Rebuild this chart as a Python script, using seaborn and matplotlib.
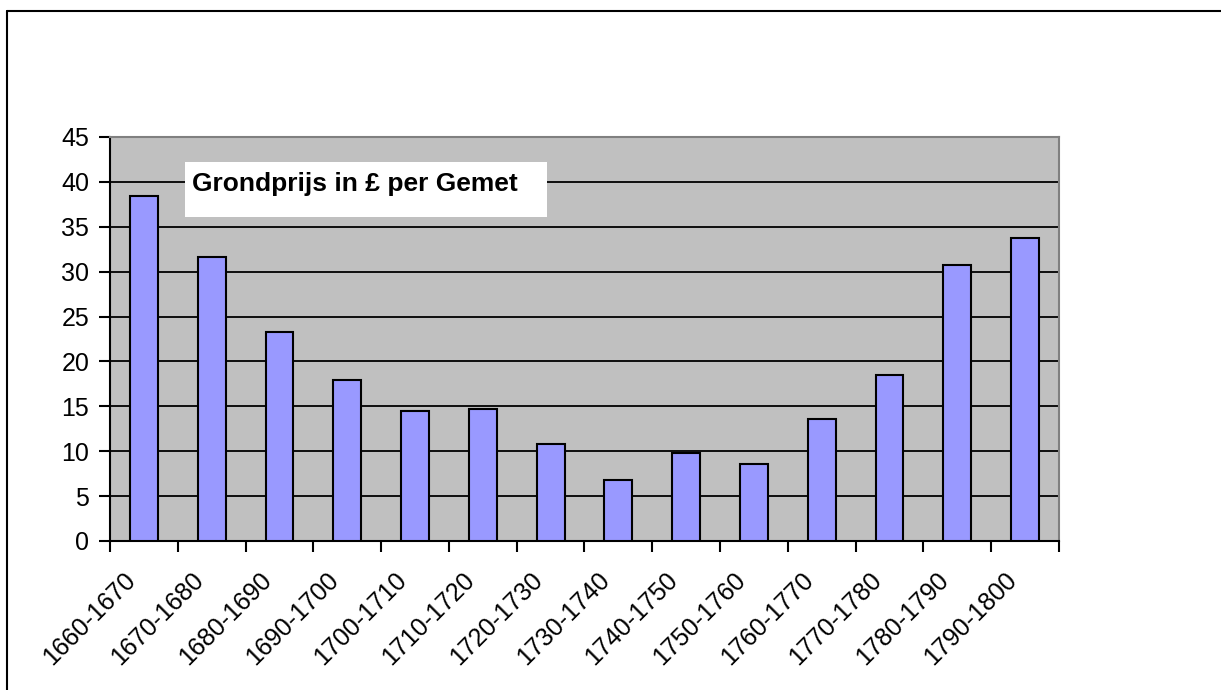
import matplotlib
matplotlib.use("Agg")
import matplotlib.pyplot as plt
import matplotlib.transforms as mtransforms
from matplotlib.patches import Rectangle
from matplotlib.lines import Line2D
import seaborn as sns
import pandas as pd
import numpy as np

periods = ["1660-1670", "1670-1680", "1680-1690", "1690-1700", "1700-1710",
           "1710-1720", "1720-1730", "1730-1740", "1740-1750", "1750-1760",
           "1760-1770", "1770-1780", "1780-1790", "1790-1800"]
prices = [38.45, 31.6, 23.3, 17.95, 14.45, 14.65, 10.85, 6.85, 9.75, 8.6,
          13.55, 18.45, 30.7, 33.8]
y_ticks = [0, 5, 10, 15, 20, 25, 30, 35, 40, 45]
label_text = "Grondprijs in £ per Gemet"

sns.set_theme(style="white")
plt.rcParams["font.family"] = ["Liberation Sans", "DejaVu Sans"]
plt.rcParams["text.color"] = "black"
plt.rcParams["xtick.color"] = "black"
plt.rcParams["ytick.color"] = "black"
plt.rcParams["xtick.labelcolor"] = "black"
plt.rcParams["ytick.labelcolor"] = "black"

W, H = 1221, 690
fig = plt.figure(figsize=(W / 100, H / 100), dpi=100)
ax = fig.add_axes([110 / W, 1 - 541 / H, 949 / W, 404 / H])

df = pd.DataFrame({"period": periods, "price": prices})
sns.barplot(data=df, x="period", y="price", ax=ax, color="#9999FF",
            width=0.41, edgecolor="black", linewidth=1.5, saturation=1,
            zorder=3)

ax.set_facecolor("#C0C0C0")
ax.set_xlim(-0.5, len(periods) - 0.5)
ax.set_ylim(0, 45)
ax.set_yticks(y_ticks)
ax.set_yticklabels([str(v) for v in y_ticks], fontsize=18, color="black")
ax.set_xlabel("")
ax.set_ylabel("")
for y in y_ticks[1:-1]:
    ax.axhline(y, color="black", linewidth=1.3, zorder=1)

ax.set_xticks(range(len(periods)))
ax.set_xticklabels(periods, fontsize=18, rotation=45, ha="right",
                   rotation_mode="anchor", va="center", color="black")
ax.tick_params(axis="x", which="major", length=0, pad=0)
offset = mtransforms.ScaledTranslation(-12 / 100, -35 / 100, fig.dpi_scale_trans)
for lbl in ax.get_xticklabels():
    lbl.set_transform(lbl.get_transform() + offset)
ax.set_xticks(np.arange(-0.5, len(periods)), minor=True)
ax.tick_params(axis="x", which="minor", length=8, width=1.5, color="black",
               direction="out", bottom=True)
ax.tick_params(axis="y", length=8, width=1.5, color="black", direction="out",
               left=True, pad=7)

for side in ["left", "bottom"]:
    ax.spines[side].set_color("black")
    ax.spines[side].set_linewidth(1.5)
for side in ["top", "right"]:
    ax.spines[side].set_color("#808080")
    ax.spines[side].set_linewidth(1.5)

ax.add_patch(Rectangle((75 / 949, (541 - 216.7) / 404), 361.7 / 949, 55 / 404,
                       transform=ax.transAxes, facecolor="white",
                       edgecolor="none", zorder=4))
ax.text(82 / 949, (541 - 191) / 404, label_text, transform=ax.transAxes,
        fontsize=19, fontweight="bold", va="baseline", ha="left",
        color="black", zorder=5)

fig.add_artist(Line2D([7 / W, 1], [1 - 10.5 / H, 1 - 10.5 / H],
                      transform=fig.transFigure, color="black", linewidth=1.5))
fig.add_artist(Line2D([7 / W, 7 / W], [0, 1 - 10.5 / H],
                      transform=fig.transFigure, color="black", linewidth=1.5))

fig.savefig("out.png", dpi=100, facecolor="white")
